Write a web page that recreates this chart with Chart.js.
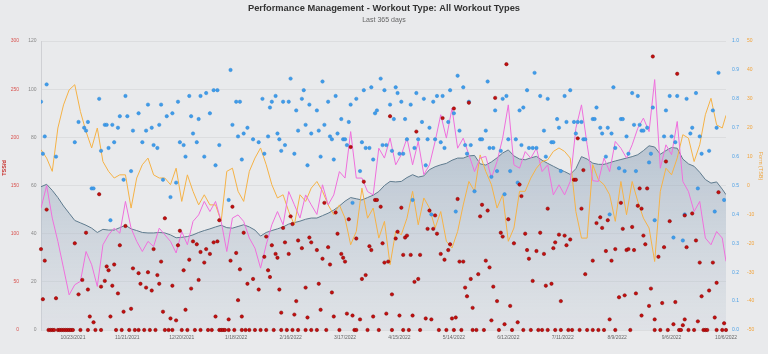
<!DOCTYPE html>
<html>
<head>
<meta charset="utf-8">
<script src="https://cdn.jsdelivr.net/npm/chart.js@4.4.1/dist/chart.umd.min.js"></script>
<style>
  html, body { margin: 0; padding: 0; background: #e9eaec; }
  canvas { display: block; }
</style>
</head>
<body>
<canvas id="pmc" width="768" height="354"></canvas>
<script>
// x = day index, day 0 = 10/6/2021, day 365 = 10/6/2022
const xTickDays = [17, 46, 75, 104, 133, 162, 191, 220, 249, 278, 307, 336, 365];
const xTickLabels = ['10/23/2021', '11/21/2021', '12/20/2021', '1/18/2022', '2/16/2022', '3/17/2022',
  '4/15/2022', '5/14/2022', '6/12/2022', '7/11/2022', '8/9/2022', '9/6/2022', '10/6/2022'];

// CTL / ATL / TSB read every 3 days (last value = day 365)
const lineStep = 3;
const fitness = [
  59.5, 60.5, 58, 55, 51.5, 48.5, 45.5, 44.5, 43.5, 42.3,
  40.5, 41.8, 41.5, 41.5, 42.5, 43.5, 42, 41.3, 40.5, 40.3,
  40.3, 40.5, 40.3, 39.5, 38.3, 38.5, 38.8, 39.5, 40.5, 41.3,
  42, 42.8, 43.5, 42.5, 42.3, 43, 43.7, 42.8, 41.5, 39,
  40.5, 41.3, 42, 42.8, 44, 44.6, 45.2, 46, 46.5, 46.5,
  47.5, 48.5, 49.8, 51.5, 53.5, 55, 54.5, 54, 55, 56,
  57.5, 60, 61.7, 61.5, 61.7, 63.3, 64.5, 63.5, 64, 66.6,
  67.8, 68.6, 69.2, 70.5, 71.4, 71.4, 72.3, 72.5, 69, 68.5,
  69.8, 71.5, 73.5, 74.8, 72.3, 71, 70.7, 71.5, 72.1, 70.5,
  69.2, 68, 66.8, 65.8, 64.6, 67, 72, 71, 69.3, 68.8,
  68.8, 69.5, 70.2, 70.8, 71.4, 72, 72.8, 74.5, 76.5, 76,
  73, 74.5, 75.8, 75.5, 71, 69, 68, 65.5, 62.5, 61,
  61.5, 58.5, 56.2
];
const fatigue = [
  50.6, 60, 46.5, 36.8, 25.7, 14.6, 18.8, 20.2, 32.6, 27.1,
  18.1, 35.4, 39.5, 42.3, 40.2, 53.4, 42.3, 36.8, 32.6, 36.8,
  34.7, 42.3, 39.5, 36.8, 32, 40.9, 35.4, 45.1, 47.8, 53.4,
  49.2, 53.4, 45.1, 32.6, 46.5, 47.8, 45.1, 38.2, 34, 25.7,
  35.4, 43.7, 49.2, 43.7, 57.5, 52, 46.5, 56.1, 52, 48,
  60.3, 52, 56.1, 65.8, 63.1, 82.4, 63.1, 63.1, 57.5, 56.1,
  75.5, 71.4, 79.7, 68.6, 72.8, 79.7, 68.6, 78.3, 64.5, 68.6,
  78.3, 89.4, 79.7, 92.1, 75.5, 79.7, 72.8, 65.8, 71.4, 72.1,
  63.1, 70, 79.7, 93.5, 68.6, 67.2, 74.1, 71.4, 75.5, 65.8,
  68.6, 56.1, 60.3, 56.1, 61.7, 83.8, 93.5, 77, 62, 61.7,
  71.4, 65.8, 78.3, 75.5, 71.4, 76.9, 83.8, 88, 82.4, 104,
  67.2, 76.9, 72.8, 86.6, 61.7, 57.5, 49.2, 53.4, 38.2, 35.4,
  40.9, 38.2, 28.5
];
const form = [
  12.4, 9.5, 4.9, 19.9, 27.9, 33.1, 34.9, 25.6, 18.7, 13,
  19.9, 8.3, 4.9, 2.6, 3.7, 3.7, -7.8, 2.6, 7.2, 9.5,
  3.7, 2.6, 2.6, 0.3, 6, -5.5, 3.7, -2, -6.7, -3.2,
  -6.7, -6.7, -12.4, 4.9, 6, -2, -5.5, 4.9, 9.5, 13,
  7.2, 0.3, -4.3, -3.2, -9, -13.6, -3.2, -5.5, -0.9, 1.4,
  -2, -6.7, -10.1, -6.7, -11.3, -20.5, -15.9, -0.9, -11.3, -7.8,
  -18.2, -12.4, -27.4, -15.9, -17, -11.3, -2, -13.6, -4.3, -7.8,
  -14.7, -9, -19.3, -21.6, -15.9, -6.7, 1.4, -2, 10.6, 4.9,
  0.3, -7.8, -3.2, -19.3, -14.7, -2, -2, 2.6, 6, 8.3,
  8.9, 11.8, 13, 11.8, 9.5, -9, -18.2, -18.2, 7.2, 2,
  0.3, -3.2, -12.4, 1.4, -10.1, 1.4, -5.5, -11.3, -14.7, -26.3,
  -2, 6, 3.7, 9.5, 17.6, 16.4, 8.3, 14.1, 24.5, 30.2,
  21, 19.9, 24.3
];

// daily TSS [day, tss]
const tss = [
  [0,84],[1,32],[2,72],[3,125],[8,33],[18,90],[20,37],[22,52],[24,101],[25,42],[26,14],[28,8],
  [31,141],[32,45],[34,51],[35,66],[36,62],[37,14],[38,46],[39,68],[41,38],[42,88],[44,19],[45,108],
  [48,22],[49,64],[52,59],[53,48],[56,44],[57,60],[59,41],[60,84],[62,57],[63,48],[64,71],[65,19],
  [66,116],[69,12],[70,46],[72,10],[73,88],[74,103],
  [76,62],[77,21],[79,73],[80,43],[81,92],[83,89],[84,52],[85,81],[87,70],[88,84],[90,79],[92,91],
  [93,14],[94,92],[95,114],[100,11],[101,72],[102,128],[104,80],[105,31],[106,63],[107,14],[108,101],
  [110,48],[113,53],[116,42],[119,76],[120,97],[121,62],[122,55],[123,88],[125,79],[126,75],[127,42],
  [128,18],[129,106],[130,91],[132,79],[133,118],[134,110],[135,16],[136,30],[137,93],[139,85],
  [141,44],[142,13],[143,96],[144,91],[147,83],[148,48],
  [149,21],[150,74],[151,132],[153,86],[154,68],[155,39],[156,14],[157,122],[158,100],[160,79],
  [161,75],[162,71],[163,17],[164,115],[165,190],[166,15],[168,95],[170,11],[171,53],[172,154],
  [173,57],[175,87],[176,83],[177,14],[178,135],[179,135],[181,128],[182,90],[183,70],[184,17],
  [185,71],[186,222],[187,37],[189,95],[190,102],[191,15],[192,127],[193,78],[194,96],[195,98],
  [197,78],[198,15],[199,50],[200,206],[201,53],[202,78],[205,12],[206,105],[207,124],[208,11],
  [209,105],[210,119],[211,100],[213,79],[214,220],[215,73],[217,83],[218,89],[219,12],[220,230],
  [221,13],[222,136],[223,71],[225,71],[226,44],[227,35],[228,236],[229,53],[230,23],[233,58],
  [234,118],[235,130],[237,72],[238,124],[239,65],[240,10],[241,45],[242,241],[243,30],[245,101],
  [246,97],[247,6],[248,276],[249,115],[250,25],[252,90],[254,8],[255,151],[256,139],[258,100],
  [259,83],[260,74],[262,51],[264,82],[266,101],[268,79],[269,46],[270,126],[272,48],[273,85],
  [274,91],[276,99],[277,30],[279,98],[280,88],[282,94],[284,156],[285,156],[286,199],[288,126],
  [289,166],[290,58],[294,72],
  [296,111],[298,117],[299,106],[301,82],[302,114],[303,11],[304,72],[306,84],[308,34],[309,132],
  [310,105],[311,36],[312,83],[313,84],[315,107],[316,83],[317,38],[318,129],[319,147],[320,126],
  [320,15],[321,98],[322,89],[323,147],[324,25],[325,43],[326,284],[327,11],[329,76],[331,28],
  [332,86],[333,175],[335,113],[337,6],[338,29],[339,266],[342,5],[343,119],[343,11],[344,86],
  [347,121],[349,93],[350,9],[351,70],[352,35],[356,41],[358,70],[359,13],[360,49],[361,143],[364,7]
];
// days with TSS 0
const restDays = [
  4, 5, 6, 7, 9, 10, 11, 12, 13, 14, 15, 16, 17, 21, 25, 29, 32, 40, 43, 47, 50, 52, 55, 58, 61, 66, 68, 70,
  75, 78, 82, 85, 89, 91, 95, 96, 97, 98, 100, 103, 107, 109, 111, 114, 117, 120, 124, 128, 131, 134, 137, 141, 144, 147,
  152, 159, 167, 168, 174, 180, 187, 193, 196, 202, 212, 216, 220,
  224, 230, 232, 236, 244, 251, 257, 261, 265, 267, 270, 274, 277, 281, 283, 287, 291,
  294, 297, 300, 306, 314, 327, 330, 334, 340, 341, 345, 348, 353, 354, 355, 360, 363, 365
];

// intensity factor [day, IF]
const intensity = [
  [0,0.79],[1,0.61],[2,0.67],[3,0.85],[8,0.60],[18,0.65],[20,0.72],[23,0.70],[24,0.69],[25,0.72],
  [27,0.49],[28,0.49],[31,0.80],[32,0.62],[34,0.71],[35,0.71],[36,0.63],[37,0.38],[38,0.71],[39,0.65],
  [41,0.70],[42,0.74],[44,0.52],[45,0.81],[46,0.74],[48,0.55],[49,0.69],[52,0.75],[54,0.65],[56,0.69],
  [57,0.78],[59,0.70],[60,0.64],[62,0.63],[63,0.71],[64,0.78],[65,0.52],[67,0.74],[69,0.46],[70,0.75],
  [72,0.51],[73,0.79],[74,0.65],
  [76,0.64],[77,0.60],[79,0.81],[80,0.74],[81,0.68],[83,0.65],[84,0.73],[85,0.81],[87,0.60],[88,0.82],
  [90,0.75],[92,0.83],[93,0.57],[94,0.83],[95,0.64],[100,0.45],[101,0.90],[102,0.71],[104,0.79],
  [105,0.67],[106,0.79],[107,0.59],[108,0.68],[110,0.70],[113,0.66],[116,0.65],[118,0.80],[119,0.61],
  [121,0.67],[122,0.77],[123,0.79],[125,0.81],[126,0.68],[127,0.66],[128,0.62],[129,0.79],[130,0.64],
  [132,0.79],[133,0.87],[135,0.61],[136,0.76],[137,0.69],[139,0.80],[140,0.83],[141,0.71],[142,0.57],
  [143,0.78],[144,0.68],[147,0.76],
  [148,0.69],[149,0.60],[150,0.86],[151,0.71],[153,0.79],[154,0.67],[155,0.66],[156,0.59],[157,0.81],
  [158,0.68],[160,0.73],[161,0.66],[162,0.66],[163,0.64],[164,0.72],[165,0.78],[166,0.44],[168,0.80],
  [170,0.55],[171,0.65],[172,0.83],[173,0.63],[175,0.63],[176,0.84],[177,0.59],[178,0.75],[179,0.76],
  [181,0.87],[182,0.64],[183,0.83],[184,0.64],[186,0.78],[187,0.62],[188,0.73],[189,0.84],[190,0.82],
  [191,0.61],[192,0.79],[193,0.61],[194,0.73],[195,0.66],[197,0.78],[198,0.45],[199,0.63],[200,0.82],
  [201,0.66],[203,0.72],[204,0.80],[205,0.57],[206,0.66],[207,0.70],[208,0.40],[209,0.79],[210,0.66],
  [211,0.81],[213,0.65],[214,0.81],[215,0.63],[217,0.72],[218,0.83],[220,0.75],[221,0.41],
  [222,0.88],[223,0.69],[225,0.84],[226,0.64],[227,0.61],[228,0.79],[229,0.64],[231,0.48],[234,0.66],
  [235,0.66],[237,0.69],[238,0.86],[239,0.63],[240,0.53],[241,0.63],[242,0.76],[243,0.55],[245,0.62],
  [246,0.80],[247,0.47],[248,0.81],[249,0.66],[250,0.55],[253,0.66],[254,0.51],[255,0.76],[256,0.64],
  [257,0.77],[259,0.83],[260,0.63],[262,0.63],[263,0.89],[264,0.63],[266,0.81],[268,0.69],[269,0.60],
  [270,0.80],[272,0.65],[273,0.65],[275,0.73],[276,0.70],[277,0.55],[279,0.81],[280,0.72],[282,0.83],
  [284,0.72],[285,0.68],[286,0.72],[288,0.72],[289,0.66],[290,0.66],[294,0.73],
  [295,0.73],[296,0.77],[298,0.70],[299,0.68],[301,0.60],[302,0.70],[303,0.40],[304,0.68],[305,0.84],
  [306,0.63],[308,0.56],[309,0.73],[310,0.73],[311,0.55],[312,0.67],[313,0.61],[315,0.82],[316,0.71],
  [317,0.55],[318,0.81],[319,0.71],[320,0.69],[321,0.69],[323,0.70],[324,0.58],[325,0.61],[326,0.77],
  [327,0.38],[332,0.67],[333,0.76],[335,0.81],[336,0.67],[337,0.32],[338,0.65],[339,0.81],[342,0.31],
  [343,0.40],[344,0.80],[346,0.68],[347,0.70],[349,0.82],[350,0.49],[351,0.67],[352,0.61],[356,0.62],
  [358,0.76],[359,0.41],[360,0.70],[361,0.89],[364,0.45]
];

const FONT = '"Liberation Sans", Arial, sans-serif';

function toLine(values) {
  return values.map((v, i) => ({ x: Math.min(i * lineStep, 365), y: v }));
}
function toPoints(pairs) {
  return pairs.map(p => ({ x: p[0], y: p[1] }));
}

// rotated axis names
const axisNames = {
  id: 'axisNames',
  afterDraw(chart) {
    const c = chart.ctx;
    c.save();
    c.font = 'bold 5.5px ' + FONT;
    c.textAlign = 'center';
    c.textBaseline = 'middle';
    c.fillStyle = '#c8302c';
    c.translate(4.5, 168);
    c.rotate(-Math.PI / 2);
    c.fillText('TSS/d', 0, 0);
    c.restore();
    c.save();
    c.font = '5.5px ' + FONT;
    c.textAlign = 'center';
    c.textBaseline = 'middle';
    c.fillStyle = '#f0a43a';
    c.translate(760.5, 166);
    c.rotate(Math.PI / 2);
    c.fillText('Form (TSB)', 0, 0);
    c.restore();
  }
};

function fixWidth(w) {
  return (scale) => { scale.width = w; };
}

new Chart(document.getElementById('pmc'), {
  type: 'line',
  data: {
    datasets: [
      {
        label: 'TSS',
        type: 'scatter',
        yAxisID: 'tss',
        data: toPoints(tss).concat(restDays.map(d => ({ x: d, y: 0 }))),
        pointRadius: 1.7,
        backgroundColor: '#c40f0f',
        borderColor: '#800000',
        borderWidth: 0.5,
        clip: false,
        order: 1
      },
      {
        label: 'IF',
        type: 'scatter',
        yAxisID: 'if',
        data: toPoints(intensity),
        pointRadius: 1.7,
        backgroundColor: '#3f9cea',
        borderColor: '#2f86d4',
        borderWidth: 0.5,
        order: 2
      },
      {
        label: 'ATL',
        yAxisID: 'fit',
        data: toLine(fatigue),
        borderColor: '#ef6fdc',
        borderWidth: 1,
        pointRadius: 0,
        fill: false,
        order: 3
      },
      {
        label: 'TSB',
        yAxisID: 'tsb',
        data: toLine(form),
        borderColor: '#f5b246',
        borderWidth: 1,
        pointRadius: 0,
        fill: false,
        order: 4
      },
      {
        label: 'CTL',
        yAxisID: 'fit',
        data: toLine(fitness),
        borderColor: '#5e7a8d',
        borderWidth: 1,
        pointRadius: 0,
        fill: 'origin',
        backgroundColor: (ctx) => {
          const area = ctx.chart.chartArea;
          if (!area) return 'rgba(150,170,190,0.4)';
          const g = ctx.chart.ctx.createLinearGradient(0, area.top, 0, area.bottom);
          g.addColorStop(0, 'rgba(105,135,165,0.62)');
          g.addColorStop(1, 'rgba(200,208,218,0.3)');
          return g;
        },
        order: 5
      }
    ]
  },
  options: {
    responsive: false,
    animation: false,
    devicePixelRatio: 1,
    layout: { padding: 0 },
    plugins: {
      legend: { display: false },
      tooltip: { enabled: false },
      title: {
        display: true,
        text: 'Performance Management - Workout Type: All Workout Types',
        color: '#333',
        font: { family: FONT, size: 9.3, weight: 'bold' },
        padding: { top: 3, bottom: 0 }
      },
      subtitle: {
        display: true,
        text: 'Last 365 days',
        color: '#666',
        font: { family: FONT, size: 7 },
        padding: { top: 2, bottom: 16.5 }
      }
    },
    scales: {
      x: {
        type: 'linear',
        min: 0,
        max: 365,
        grid: { display: false, drawTicks: false },
        border: { display: false },
        afterFit: (s) => { s.height = 24; },
        afterBuildTicks: (axis) => { axis.ticks = xTickDays.map(v => ({ value: v })); },
        ticks: {
          autoSkip: false,
          maxRotation: 0,
          padding: 5,
          color: '#666',
          font: { family: FONT, size: 5 },
          callback: (v, i) => xTickLabels[i]
        }
      },
      tss: {
        position: 'left',
        weight: 1,
        min: 0,
        max: 300,
        afterFit: fixWidth(22),
        grid: { display: false, drawTicks: false },
        border: { display: false },
        ticks: { stepSize: 50, padding: 3, color: '#d9534f', font: { family: FONT, size: 5 } }
      },
      fit: {
        position: 'left',
        weight: 0,
        min: 0,
        max: 120,
        afterFit: fixWidth(19),
        grid: { color: 'rgba(0,0,0,0.055)', drawTicks: false },
        border: { display: true, color: '#cfd0d4' },
        ticks: { stepSize: 20, padding: 4.5, color: '#888', font: { family: FONT, size: 5 } }
      },
      if: {
        position: 'right',
        weight: 0,
        min: 0,
        max: 1,
        afterFit: fixWidth(19),
        grid: { display: false, drawTicks: false },
        border: { display: false },
        ticks: {
          stepSize: 0.1, padding: 6, color: '#4a9fe6', font: { family: FONT, size: 5 },
          callback: (v) => v.toFixed(1)
        }
      },
      tsb: {
        position: 'right',
        weight: 1,
        min: -50,
        max: 50,
        afterFit: fixWidth(23),
        grid: { display: false, drawTicks: false },
        border: { display: false },
        ticks: { stepSize: 10, padding: 2, color: '#f2a33a', font: { family: FONT, size: 5 } }
      }
    }
  },
  plugins: [axisNames]
});
</script>
</body>
</html>
